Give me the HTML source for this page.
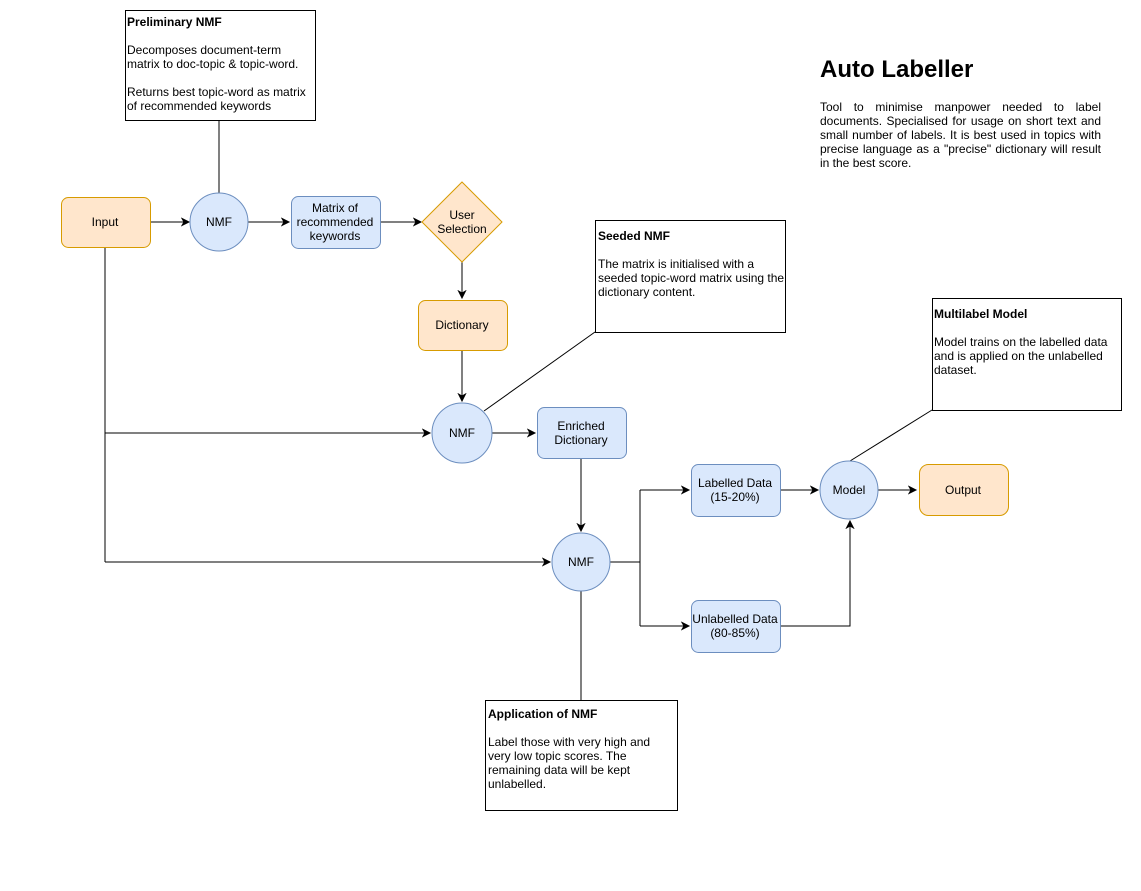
<!DOCTYPE html>
<html><head><meta charset="utf-8"><style>
html,body{margin:0;padding:0;background:#fff;}
svg{display:block;font-family:"Liberation Sans",Helvetica,Arial,sans-serif;}
.t{font-size:12px;fill:#000;}
.note{position:absolute;font-family:"Liberation Sans",Helvetica,Arial,sans-serif;font-size:12px;line-height:14px;color:#000;}
</style></head><body>
<div style="position:relative;width:1141px;height:891px;overflow:hidden;">
<svg width="1141" height="891" viewBox="0 0 1141 891">
<defs><marker id="a" markerWidth="10" markerHeight="10" refX="8" refY="5" orient="auto" markerUnits="userSpaceOnUse"><path d="M1,1.5 L8,5 L1,8.5 L3,5 Z" fill="#000" stroke="#000"/></marker></defs>
<g fill="none" stroke="#000" stroke-width="1">
<line x1="219" y1="120" x2="219" y2="193"/>
<line x1="150" y1="222" x2="189" y2="222" marker-end="url(#a)"/>
<line x1="248" y1="222" x2="289" y2="222" marker-end="url(#a)"/>
<line x1="380" y1="222" x2="421" y2="222" marker-end="url(#a)"/>
<line x1="462" y1="262" x2="462" y2="298" marker-end="url(#a)"/>
<line x1="462" y1="350" x2="462" y2="401" marker-end="url(#a)"/>
<polyline points="105,247 105,562"/>
<line x1="105" y1="433" x2="430" y2="433" marker-end="url(#a)"/>
<line x1="105" y1="562" x2="550" y2="562" marker-end="url(#a)"/>
<line x1="595" y1="332" x2="484" y2="411"/>
<line x1="492" y1="433" x2="535" y2="433" marker-end="url(#a)"/>
<line x1="581" y1="458" x2="581" y2="531" marker-end="url(#a)"/>
<polyline points="610,562 640,562"/>
<polyline points="640,490 640,626"/>
<line x1="640" y1="490" x2="689" y2="490" marker-end="url(#a)"/>
<line x1="640" y1="626" x2="689" y2="626" marker-end="url(#a)"/>
<line x1="780" y1="490" x2="818" y2="490" marker-end="url(#a)"/>
<line x1="878" y1="490" x2="916" y2="490" marker-end="url(#a)"/>
<polyline points="780,626 850,626 850,521" marker-end="url(#a)"/>
<line x1="932" y1="410" x2="850" y2="461"/>
<line x1="581" y1="591" x2="581" y2="700"/>
</g>
<g stroke="#000" fill="#fff">
<rect x="125.5" y="10.5" width="190" height="110"/>
<rect x="595.5" y="220.5" width="190" height="112"/>
<rect x="932.5" y="298.5" width="189" height="112"/>
<rect x="485.5" y="700.5" width="192" height="110"/>
</g>
<g fill="#ffe6cc" stroke="#d79b00">
<rect x="61.5" y="197.5" width="89" height="50" rx="7"/>
<polygon points="462,182 502,222 462,262 422,222"/>
<rect x="418.5" y="300.5" width="89" height="50" rx="7"/>
<rect x="919.5" y="464.5" width="89" height="51" rx="9"/>
</g>
<g fill="#dae8fc" stroke="#6c8ebf">
<circle cx="219" cy="222" r="29"/>
<rect x="291.5" y="196.5" width="89" height="52" rx="7"/>
<circle cx="462" cy="433" r="30"/>
<rect x="537.5" y="407.5" width="89" height="51" rx="7"/>
<circle cx="581" cy="562" r="29"/>
<rect x="691.5" y="464.5" width="89" height="52" rx="7"/>
<rect x="691.5" y="600.5" width="89" height="52" rx="7"/>
<circle cx="849" cy="490" r="29"/>
</g>
<g class="t" text-anchor="middle">
<text x="105" y="226">Input</text>
<text x="219" y="226">NMF</text>
<text x="335" y="212">Matrix of</text>
<text x="335" y="226">recommended</text>
<text x="335" y="240">keywords</text>
<text x="462" y="219">User</text>
<text x="462" y="233">Selection</text>
<text x="462" y="329">Dictionary</text>
<text x="462" y="437">NMF</text>
<text x="581" y="430">Enriched</text>
<text x="581" y="444">Dictionary</text>
<text x="581" y="566">NMF</text>
<text x="735" y="487">Labelled Data</text>
<text x="735" y="501">(15-20%)</text>
<text x="735" y="623">Unlabelled Data</text>
<text x="735" y="637">(80-85%)</text>
<text x="849" y="494">Model</text>
<text x="963" y="494">Output</text>
</g>
</svg>
<div class="note" style="left:127px;top:15px;width:186px;"><b>Preliminary NMF</b><br><br>Decomposes document-term matrix to doc-topic &amp; topic-word.<br><br>Returns best topic-word as matrix of recommended keywords</div>
<div class="note" style="left:598px;top:229px;width:190px;"><b>Seeded NMF</b><br><br>The matrix is initialised with a seeded topic-word matrix using the dictionary content.</div>
<div class="note" style="left:934px;top:307px;width:186px;"><b>Multilabel Model</b><br><br>Model trains on the labelled data and is applied on the unlabelled dataset.</div>
<div class="note" style="left:488px;top:707px;width:188px;"><b>Application of NMF</b><br><br>Label those with very high and very low topic scores. The remaining data will be kept unlabelled.</div>
<div class="note" style="left:820px;top:56px;font-size:24px;line-height:28px;font-weight:bold;">Auto Labeller</div>
<div class="note" style="left:820px;top:100px;width:281px;text-align:justify;">Tool to minimise manpower needed to label documents. Specialised for usage on short text and small number of labels. It is best used in topics with precise language as a "precise" dictionary will result in the best score.</div>
</div>
</body></html>
